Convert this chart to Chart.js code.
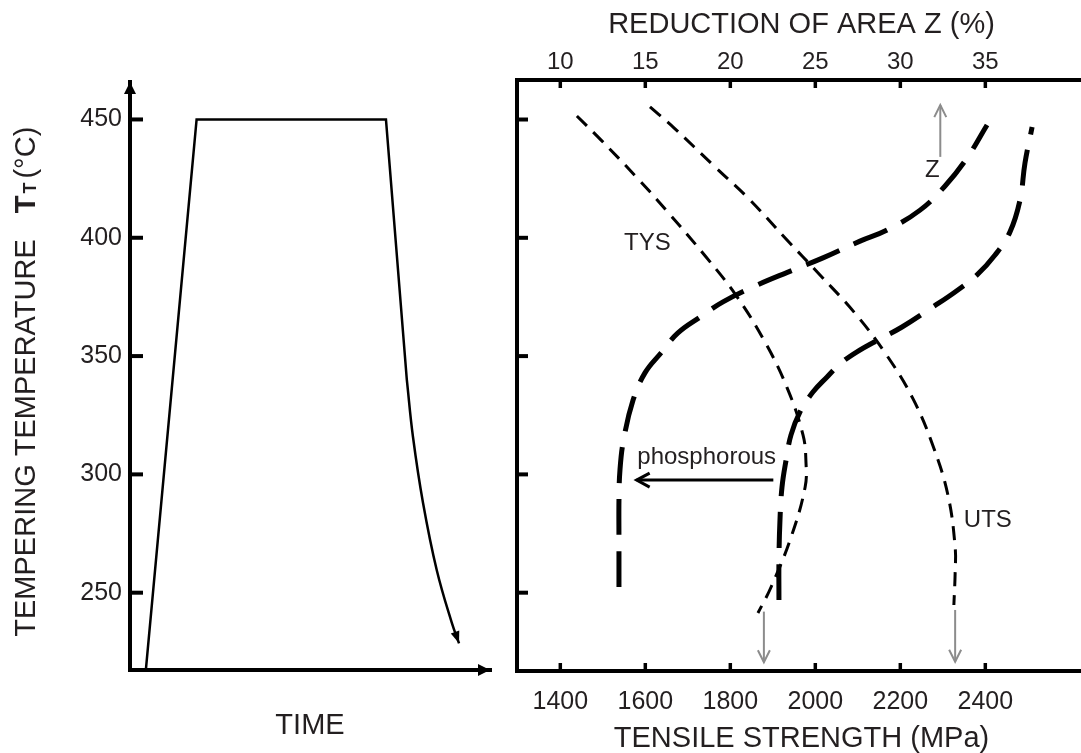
<!DOCTYPE html>
<html>
<head>
<meta charset="utf-8">
<title>Tempering temperature and tensile properties</title>
<script src="https://cdn.jsdelivr.net/npm/chart.js"></script>
<style>
  html, body { margin: 0; padding: 0; background: #fff; overflow: hidden; }
  #wrap { position: relative; width: 1081px; height: 753px; overflow: hidden; }
  #cycle { position: absolute; left: 0; top: 0; }
  #props { position: absolute; left: 500px; top: 0; }
</style>
</head>
<body>
<div id="wrap">
  <canvas id="cycle" width="500" height="753"></canvas>
  <canvas id="props" width="590" height="753"></canvas>
</div>
<script>
// tick values
const tempTicks = [250, 300, 350, 400, 450];
const strengthTicks = [1400, 1600, 1800, 2000, 2200, 2400];
const areaTicks = [10, 15, 20, 25, 30, 35];

// heat treatment cycle (time in arbitrary units): heat up, hold, start of cooling
const rampTime = [0.44, 1.85, 7.11, 7.69];
const rampTemp = [217.3, 450, 450, 339.9];
// cooling curve down to the arrow
const coolTime = [7.69, 7.86, 8.14, 8.52, 8.94, 9.14];
const coolTemp = [339.9, 315.9, 287.9, 259.6, 237.2, 228.6];

// tensile yield strength (MPa) vs tempering temperature
const tysStrength = [1439, 1496, 1581, 1649, 1741, 1813, 1879, 1933, 1971, 1978, 1976, 1943, 1896, 1865];
const tysTemp = [451.5, 441.3, 425.3, 411.7, 392.3, 375.8, 356.8, 336.9, 316.7, 305.2, 294.6, 273.5, 252.4, 241.4];

// ultimate tensile strength (MPa)
const utsStrength = [1611, 1668, 1762, 1842, 1929, 2011, 2093, 2166, 2230, 2277, 2312, 2329, 2329, 2326];
const utsTemp = [455.3, 446.4, 430.3, 416.8, 399.9, 384.3, 368.2, 350.9, 331.9, 312, 291.3, 269.3, 258.3, 244.8];

// reduction of area Z (%), with phosphorous
const zHighArea = [13.45, 13.45, 13.45, 13.51, 13.72, 14.28, 14.98, 15.92, 16.92, 18.22, 19.57, 21.45, 23.39, 25.45, 27.63, 29.22, 31.16, 32.63, 33.92, 35.1];
const zHighTemp = [252.4, 272.3, 289.2, 301.9, 314.5, 331.4, 342.9, 351.3, 359.8, 366.5, 372.9, 379.6, 385.5, 391.5, 398.6, 403.3, 411.7, 421.9, 433.7, 447.7];

// reduction of area Z (%), without phosphorous
const zLowArea = [22.86, 22.86, 22.92, 23.04, 23.28, 23.57, 24.1, 24.87, 25.69, 26.45, 27.45, 28.81, 30.1, 31.92, 33.22, 34.51, 35.57, 36.45, 37.04, 37.33, 37.75];
const zLowTemp = [246.9, 263.8, 280.7, 294.7, 306.1, 316.7, 326.4, 334.9, 341.2, 346.7, 351.8, 357.3, 362.3, 370.8, 377.1, 384.3, 392.7, 402.5, 416, 431.6, 446.8];

var FONT = '"Liberation Sans", Arial, Helvetica, sans-serif';
var TEXT = '#231f20';
Chart.defaults.font.family = FONT;
Chart.defaults.color = TEXT;

function pairs(xs, ys) {
    return xs.map(function (x, i) { return { x: x, y: ys[i] }; });
}

function fixTicks(values) {
    return function (scale) { scale.ticks = values.map(function (v) { return { value: v }; }); };
}

// plain numbers, no thousands separator
function plain(value) {
    return String(value);
}

function head(ctx, x, y, ang, len, half, filled) {
    var c = Math.cos(ang), s = Math.sin(ang);
    ctx.beginPath();
    ctx.moveTo(x - len * c - half * s, y - len * s + half * c);
    ctx.lineTo(x, y);
    ctx.lineTo(x - len * c + half * s, y - len * s - half * c);
    if (filled) { ctx.closePath(); ctx.fill(); } else { ctx.stroke(); }
}

// inward ticks, arrows and free text
const decor = {
    id: 'decor',
    afterDraw: function (chart, args, opts) {
        var ctx = chart.ctx;
        var area = chart.chartArea;
        ctx.save();
        ctx.lineCap = 'butt';

        (opts.ticks || []).forEach(function (t) {
            var s = chart.scales[t.axis];
            ctx.strokeStyle = '#000';
            ctx.lineWidth = t.width;
            s.ticks.forEach(function (tk) {
                var p = s.getPixelForValue(tk.value);
                ctx.beginPath();
                if (s.position === 'left') { ctx.moveTo(s.right, p); ctx.lineTo(s.right + t.len, p); }
                else if (s.position === 'top') { ctx.moveTo(p, s.bottom); ctx.lineTo(p, s.bottom + t.len); }
                else { ctx.moveTo(p, s.top); ctx.lineTo(p, s.top - t.len); }
                ctx.stroke();
            });
        });

        if (opts.axisArrows) {
            ctx.fillStyle = '#000';
            head(ctx, area.left, area.top, -Math.PI / 2, 12, 6, true);
            head(ctx, area.right, area.bottom, 0, 12, 6, true);
        }

        if (opts.endArrow != null) {
            var pts = chart.getDatasetMeta(opts.endArrow).data;
            var last = pts[pts.length - 1], prev = pts[pts.length - 2];
            var dx = last.x - last.cp1x, dy = last.y - last.cp1y;
            if (!dx && !dy) { dx = last.x - prev.x; dy = last.y - prev.y; }
            ctx.fillStyle = '#000';
            head(ctx, last.x, last.y, Math.atan2(dy, dx), 12, 4.5, true);
        }

        (opts.pointers || []).forEach(function (p) {
            var sx = chart.scales[p.xAxis], sy = chart.scales.y;
            var x1 = sx.getPixelForValue(p.from[0]), y1 = sy.getPixelForValue(p.from[1]);
            var x2 = sx.getPixelForValue(p.to[0]), y2 = sy.getPixelForValue(p.to[1]);
            ctx.strokeStyle = p.color;
            ctx.lineWidth = p.width;
            ctx.beginPath();
            ctx.moveTo(x1, y1);
            ctx.lineTo(x2, y2);
            ctx.stroke();
            ctx.lineJoin = 'miter';
            head(ctx, x2, y2, Math.atan2(y2 - y1, x2 - x1), p.len, p.half, false);
        });

        (opts.notes || []).forEach(function (n) {
            var sx = chart.scales[n.xAxis], sy = chart.scales.y;
            ctx.fillStyle = TEXT;
            ctx.font = n.size + 'px ' + FONT;
            ctx.textAlign = 'center';
            ctx.textBaseline = 'middle';
            ctx.fillText(n.text, sx.getPixelForValue(n.at[0]), sy.getPixelForValue(n.at[1]));
        });

        if (opts.yTitle) {
            // rotated axis title with bold T and subscript
            var t = opts.yTitle;
            ctx.translate(t.x, t.y);
            ctx.rotate(-Math.PI / 2);
            ctx.fillStyle = TEXT;
            ctx.textAlign = 'left';
            ctx.textBaseline = 'alphabetic';
            var pos = 0;
            ctx.font = '29px ' + FONT;
            ctx.fillText('TEMPERING TEMPERATURE', pos, 0);
            pos += ctx.measureText('TEMPERING TEMPERATURE').width + 26;
            ctx.font = 'bold 29px ' + FONT;
            ctx.fillText('T', pos, 0);
            pos += ctx.measureText('T').width + 2;
            ctx.font = 'bold 18px ' + FONT;
            ctx.fillText('T', pos, 1);
            pos += ctx.measureText('T').width + 4;
            ctx.font = '29px ' + FONT;
            ctx.fillText('(°C)', pos, 0);
        }
        ctx.restore();
    }
};

var hidden = { legend: { display: false }, tooltip: { enabled: false } };

// left panel: tempering cycle
new Chart(document.getElementById('cycle'), {
    type: 'scatter',
    data: {
        datasets: [
            { data: pairs(rampTime, rampTemp), showLine: true, borderColor: '#000', borderWidth: 2.5, pointRadius: 0, tension: 0 },
            { data: pairs(coolTime, coolTemp), showLine: true, borderColor: '#000', borderWidth: 2.5, pointRadius: 0, tension: 0.4 }
        ]
    },
    options: {
        responsive: false,
        animation: false,
        devicePixelRatio: 1,
        layout: { padding: { left: 0, right: 10, top: 82, bottom: 0 } },
        plugins: {
            legend: hidden.legend,
            tooltip: hidden.tooltip,
            decor: {
                ticks: [{ axis: 'y', len: 13, width: 4 }],
                axisArrows: true,
                endArrow: 1,
                yTitle: { x: 35, y: 636.7 }
            }
        },
        scales: {
            x: {
                type: 'linear', min: 0, max: 10,
                grid: { display: false, drawTicks: false, lineWidth: 4 },
                border: { color: '#000', width: 4 },
                ticks: { display: false },
                title: { display: true, text: 'TIME', color: TEXT, font: { size: 29, lineHeight: 1 }, padding: { top: 0, bottom: 13 } },
                afterFit: function (s) { s.height = 83; }
            },
            y: {
                type: 'linear', min: 217.33, max: 465.83,
                grid: { display: false, drawTicks: false, lineWidth: 4 },
                border: { color: '#000', width: 4 },
                ticks: { color: TEXT, font: { size: 25 }, padding: 8, callback: plain },
                afterBuildTicks: fixTicks(tempTicks),
                afterFit: function (s) { s.width = 130; }
            }
        }
    },
    plugins: [decor]
});

// right panel: strength and reduction of area
new Chart(document.getElementById('props'), {
    type: 'scatter',
    data: {
        datasets: [
            { label: 'TYS', xAxisID: 'x', data: pairs(tysStrength, tysTemp), showLine: true, borderColor: '#000', borderWidth: 3, borderDash: [14, 9], pointRadius: 0, tension: 0.4 },
            { label: 'UTS', xAxisID: 'x', data: pairs(utsStrength, utsTemp), showLine: true, borderColor: '#000', borderWidth: 3, borderDash: [14, 9], pointRadius: 0, tension: 0.4 },
            { label: 'Z (P)', xAxisID: 'x2', data: pairs(zHighArea, zHighTemp), showLine: true, borderColor: '#000', borderWidth: 5, borderDash: [36, 16], pointRadius: 0, tension: 0.4 },
            { label: 'Z', xAxisID: 'x2', data: pairs(zLowArea, zLowTemp), showLine: true, borderColor: '#000', borderWidth: 5, borderDash: [36, 16], pointRadius: 0, tension: 0.4 }
        ]
    },
    options: {
        responsive: false,
        animation: false,
        devicePixelRatio: 1,
        layout: { padding: { left: 0, right: 4, top: 0, bottom: 0 } },
        plugins: {
            legend: hidden.legend,
            tooltip: hidden.tooltip,
            decor: {
                ticks: [
                    { axis: 'y', len: 11, width: 4 },
                    { axis: 'x', len: 8, width: 3.5 },
                    { axis: 'x2', len: 8, width: 3.5 }
                ],
                pointers: [
                    { xAxis: 'x2', from: [32.35, 434.2], to: [32.35, 456.1], color: '#8c8c8c', width: 2, len: 12, half: 6 },
                    { xAxis: 'x', from: [1879, 242], to: [1879, 220.6], color: '#8c8c8c', width: 2, len: 12, half: 6 },
                    { xAxis: 'x', from: [2329, 242.7], to: [2329, 220.8], color: '#8c8c8c', width: 2, len: 12, half: 6 },
                    { xAxis: 'x2', from: [22.53, 297.6], to: [14.49, 297.6], color: '#000', width: 3, len: 13, half: 7 }
                ],
                notes: [
                    { text: 'TYS', xAxis: 'x', at: [1605, 397.6], size: 24 },
                    { text: 'UTS', xAxis: 'x', at: [2406, 280.4], size: 24 },
                    { text: 'Z', xAxis: 'x2', at: [31.88, 428.7], size: 24 },
                    { text: 'phosphorous', xAxis: 'x2', at: [18.61, 307.0], size: 24 }
                ]
            }
        },
        scales: {
            x: {
                type: 'linear', position: 'bottom', min: 1298.1, max: 2636.9,
                grid: { display: false, drawTicks: false, lineWidth: 4 },
                border: { color: '#000', width: 4 },
                ticks: { color: TEXT, font: { size: 25 }, padding: 16, callback: plain },
                title: { display: true, text: 'TENSILE STRENGTH (MPa)', color: TEXT, font: { size: 29, lineHeight: 1 }, padding: { top: 0, bottom: 0 } },
                afterBuildTicks: fixTicks(strengthTicks),
                afterFit: function (s) { s.height = 82; }
            },
            x2: {
                type: 'linear', position: 'top', min: 7.453, max: 40.92,
                grid: { display: false, drawTicks: false, lineWidth: 4 },
                border: { color: '#000', width: 4 },
                ticks: { color: TEXT, font: { size: 24 }, padding: 3, callback: plain },
                title: { display: true, text: 'REDUCTION OF AREA Z (%)', color: TEXT, font: { size: 29, lineHeight: 1 }, padding: { top: 10, bottom: 0 } },
                afterBuildTicks: fixTicks(areaTicks),
                afterFit: function (s) { s.height = 80; }
            },
            y: {
                type: 'linear', min: 216.9, max: 466.7,
                grid: { display: false, drawTicks: false, lineWidth: 4 },
                border: { color: '#000', width: 4 },
                ticks: { display: false },
                afterBuildTicks: fixTicks(tempTicks),
                afterFit: function (s) { s.width = 17; }
            }
        }
    },
    plugins: [decor]
});
</script>
</body>
</html>
